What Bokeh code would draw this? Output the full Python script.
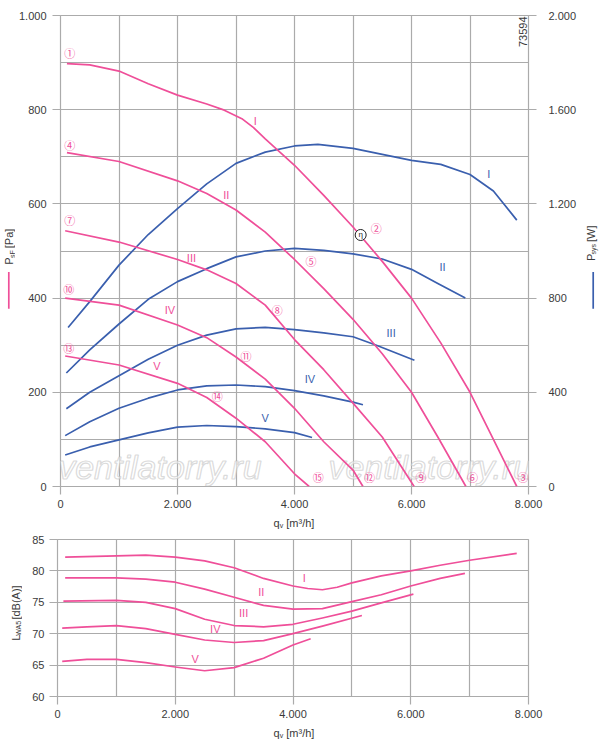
from bokeh.plotting import figure
from bokeh.models import Range1d, LinearAxis, FixedTicker
from bokeh.layouts import column, row
from bokeh.core.properties import value
from bokeh.embed import file_html
from bokeh.resources import INLINE

PINK = "#EF4F99"
BLUE = "#3A5FAE"
GRID = "#ABABAB"
TXT = "#3A3A3A"
FONT = "Liberation Sans"

# ---------------- data ----------------
# static pressure psF [Pa] vs qv [m3/h]
p1_x = [110, 500, 1000, 1500, 2000, 2500, 2800, 3100, 3300, 3500, 4000, 4500, 5000, 5500, 6000, 6500, 7000, 7400, 7800]
p1_y = [898, 895, 882, 855, 831, 812, 799, 781, 762, 738, 682, 618, 551, 478, 400, 305, 200, 100, 0]
p2_x = [110, 1000, 2000, 2500, 3000, 3500, 4000, 4500, 5000, 5500, 6000, 6450, 6930]
p2_y = [709, 690, 649, 622, 587, 540, 482, 420, 355, 282, 200, 105, 0]
p3_x = [80, 1000, 2000, 2500, 3000, 3500, 4000, 4500, 5000, 5500, 6045]
p3_y = [543, 519, 482, 460, 431, 385, 312, 248, 177, 105, 0]
p4_x = [80, 1000, 2000, 2500, 3000, 3500, 4000, 4500, 5000, 5170]
p4_y = [400, 385, 343, 316, 275, 228, 166, 95, 35, 0]
p5_x = [80, 1000, 2000, 2500, 3000, 3500, 4000, 4250]
p5_y = [277, 258, 219, 189, 145, 95, 27, 0]

# system power Psys [W]
w1_x = [130, 500, 1000, 1500, 2000, 2500, 3000, 3500, 4000, 4400, 5000, 5500, 6000, 6500, 7000, 7400, 7800]
w1_y = [675, 785, 940, 1070, 1180, 1285, 1372, 1420, 1446, 1453, 1436, 1410, 1385, 1368, 1325, 1255, 1131]
w2_x = [100, 500, 1000, 1500, 2000, 2500, 3000, 3500, 4000, 4500, 5000, 5500, 6000, 6450, 6920]
w2_y = [482, 580, 690, 795, 870, 925, 975, 1000, 1011, 1003, 988, 966, 922, 862, 800]
w3_x = [100, 500, 1000, 1500, 2000, 2500, 3000, 3500, 4000, 4500, 5000, 5400, 6050]
w3_y = [330, 400, 470, 540, 600, 643, 669, 676, 666, 652, 636, 600, 536]
w4_x = [80, 500, 1000, 1500, 2000, 2500, 3000, 3500, 4000, 4500, 5000, 5170]
w4_y = [216, 275, 332, 375, 410, 427, 431, 424, 407, 385, 358, 347]
w5_x = [80, 500, 1000, 1500, 2000, 2500, 3000, 3500, 4000, 4300]
w5_y = [134, 168, 198, 228, 252, 259, 254, 245, 229, 208]

# sound power LWA5 [dB(A)]
l1_x = [130, 1000, 1500, 2000, 2500, 3000, 3500, 4000, 4250, 4500, 4750, 5000, 5500, 6000, 6500, 7000, 7800]
l1_y = [82.2, 82.4, 82.5, 82.2, 81.6, 80.5, 78.8, 77.6, 77.2, 77.0, 77.4, 78.1, 79.2, 80.0, 80.9, 81.7, 82.8]
l2_x = [130, 1000, 1500, 2000, 2500, 3000, 3500, 4000, 4500, 5000, 5500, 6000, 6500, 6920]
l2_y = [78.9, 78.9, 78.7, 78.2, 77.1, 75.8, 74.5, 73.9, 74.0, 75.1, 76.2, 77.6, 78.8, 79.6]
l3_x = [100, 1000, 1500, 2000, 2500, 3000, 3500, 4000, 4500, 5000, 5500, 6045]
l3_y = [75.2, 75.3, 75.0, 74.0, 72.3, 71.3, 71.1, 71.5, 72.5, 73.6, 74.9, 76.3]
l4_x = [80, 500, 1000, 1500, 2000, 2500, 3000, 3500, 4000, 4500, 5170]
l4_y = [70.9, 71.1, 71.3, 70.8, 69.9, 69.0, 68.6, 68.9, 70.0, 71.2, 72.9]
l5_x = [80, 500, 1000, 1500, 2000, 2500, 3000, 3500, 4000, 4300]
l5_y = [65.6, 65.9, 65.9, 65.4, 64.7, 64.1, 64.6, 66.1, 68.2, 69.2]

# labels
roman = ["I", "II", "III", "IV", "V"]
pl_x = [3330, 2833, 2238, 1871, 1648]
pl_y = [777, 619, 486, 375, 256]
wl_x = [7323, 6531, 5652, 4265, 3500]
wl_y = [1327, 933, 650, 455, 292]
ll_x = [4192, 3461, 3161, 2680, 2340]
ll_y = [78.9, 76.7, 73.3, 70.8, 66.0]

circ_text = ["①", "②", "③", "④", "⑤", "⑥", "⑦", "⑧", "⑨", "⑩", "⑪", "⑫", "⑬", "⑭", "⑮"]
circ_x = [160, 5398, 7907, 160, 4282, 7041, 160, 3704, 6162, 143, 3172, 5284, 143, 2680, 4407]
circ_y = [920, 548, 20, 726, 479, 20, 566, 375, 20, 420, 277, 20, 294, 193, 20]
eta_x = [5131]
eta_y = [534]
id_x = [7905]
id_y = [933]
id_text = ["73594"]

x_ticks = [0, 2000, 4000, 6000, 8000]
x_tick_labels = ["0", "2.000", "4.000", "6.000", "8.000"]
p_ticks = [0, 200, 400, 600, 800, 1000]
p_tick_labels = ["0", "200", "400", "600", "800", "1.000"]
w_ticks = [0, 400, 800, 1200, 1600, 2000]
w_tick_labels = ["0", "400", "800", "1.200", "1.600", "2.000"]
l_ticks = [60, 65, 70, 75, 80, 85]
l_tick_labels = ["60", "65", "70", "75", "80", "85"]
wm_text = ["ventilatorry.ru", "ventilatorry.ru"]
wm_x = [-40, 4580]
wm_y = [41, 41]


def style_axis(ax, ticks, labels, standoff=5):
    ax.ticker = FixedTicker(ticks=ticks)
    ax.major_label_overrides = {t: l for t, l in zip(ticks, labels)}
    ax.axis_line_color = None
    ax.major_tick_line_color = GRID
    ax.major_tick_line_width = 1.2
    ax.major_tick_in = 0
    ax.major_tick_out = 8
    ax.minor_tick_line_color = None
    ax.major_label_text_font = FONT
    ax.major_label_text_font_size = "11px"
    ax.major_label_text_color = TXT
    ax.major_label_standoff = standoff


def base_fig(width, height, yr, left, right, top, bottom):
    f = figure(width=width, height=height, x_range=Range1d(0, 8000), y_range=yr,
               output_backend="svg", toolbar_location=None,
               min_border_left=left, min_border_right=right,
               min_border_top=top, min_border_bottom=bottom)
    f.background_fill_color = "white"
    f.border_fill_color = "white"
    f.outline_line_color = GRID
    f.outline_line_width = 1.2
    f.xgrid.ticker = FixedTicker(ticks=list(range(0, 8001, 1000)))
    for g in (f.xgrid[0], f.ygrid[0]):
        g.grid_line_color = GRID
        g.grid_line_width = 1.2
    style_axis(f.xaxis[0], x_ticks, x_tick_labels, 5)
    return f


def strip(width, height):
    s = figure(width=width, height=height, x_range=Range1d(0, width), y_range=Range1d(0, height),
               output_backend="svg", toolbar_location=None,
               x_axis_location=None, y_axis_location=None, min_border=0)
    s.grid.visible = False
    s.outline_line_color = None
    s.background_fill_color = "white"
    s.border_fill_color = "white"
    return s


def stext(s, x, y, text, size="11px", color=TXT, angle=0):
    s.text(x=[x], y=[y], text=[text], angle=angle, angle_units="deg",
           text_font=value(FONT), text_font_size=size, text_color=color,
           text_align="left", text_baseline="middle")


# ---------------- top chart ----------------
p = base_fig(567, 514, Range1d(0, 1000), 42, 54, 15, 28)
p.extra_y_ranges = {"power": Range1d(0, 2000)}
p.ygrid[0].ticker = FixedTicker(ticks=list(range(0, 1001, 100)))
style_axis(p.yaxis[0], p_ticks, p_tick_labels, 6)
rax = LinearAxis(y_range_name="power")
style_axis(rax, w_ticks, w_tick_labels, 12)
p.add_layout(rax, "right")

# watermark
try:
    p.text(x=wm_x, y=wm_y, text=wm_text, text_font=value(FONT), text_font_style="italic",
           text_font_size="34px", text_color="white", text_alpha=0.6,
           text_outline_color="#c2c2c2", text_baseline="alphabetic")
except Exception:
    p.text(x=wm_x, y=wm_y, text=wm_text, text_font=value(FONT), text_font_style="italic",
           text_font_size="34px", text_color="#dadada", text_alpha=0.7, text_baseline="alphabetic")

for xs, ys in [(w1_x, w1_y), (w2_x, w2_y), (w3_x, w3_y), (w4_x, w4_y), (w5_x, w5_y)]:
    p.line(xs, ys, line_color=BLUE, line_width=1.7, y_range_name="power", line_join="round")
for xs, ys in [(p1_x, p1_y), (p2_x, p2_y), (p3_x, p3_y), (p4_x, p4_y), (p5_x, p5_y)]:
    p.line(xs, ys, line_color=PINK, line_width=1.7, line_join="round")

p.text(x=pl_x, y=pl_y, text=roman, text_font=value(FONT), text_font_size="11px",
       text_color=PINK, text_align="center", text_baseline="middle")
p.text(x=wl_x, y=wl_y, text=roman, text_font=value(FONT), text_font_size="11px",
       text_color=BLUE, text_align="center", text_baseline="middle", y_range_name="power")
p.text(x=circ_x, y=circ_y, text=circ_text, text_font=value("Noto Sans CJK JP"), text_font_size="11px",
       text_color=PINK, text_align="center", text_baseline="middle")
p.scatter(x=eta_x, y=eta_y, marker="circle", size=11, fill_color="white", line_color="#222222", line_width=1)
p.text(x=eta_x, y=eta_y, text=["η"], text_font=value(FONT), text_font_size="8px",
       text_color="#222222", text_align="center", text_baseline="middle")
p.text(x=id_x, y=id_y, text=id_text, angle=90, angle_units="deg", text_font=value(FONT),
       text_font_size="11px", text_color=TXT, text_align="left", text_baseline="middle")

# left title strip: P_sF [Pa]
lt = strip(15, 514)
stext(lt, 8.5, 242, "P", angle=90)
stext(lt, 11.5, 249.3, "sF", size="7px", angle=90)
stext(lt, 8.5, 260, "[Pa]", angle=90)
lt.line(x=[8.3, 8.3], y=[194, 234], line_color=PINK, line_width=1.7)

# right title strip: P_sys [W]
rt = strip(18, 514)
stext(rt, 8, 246, "P", angle=90)
stext(rt, 11, 253.3, "sys", size="7px", angle=90)
stext(rt, 8, 266.8, "[W]", angle=90)
rt.line(x=[10.7, 10.7], y=[194, 234], line_color=BLUE, line_width=1.7)

# x title strip (top)
xt1 = strip(600, 15)
stext(xt1, 273, 7, "q")
stext(xt1, 279.3, 4, "v", size="7px")
stext(xt1, 285.8, 7, "[m³/h]")

# ---------------- bottom chart ----------------
q = base_fig(560, 194, Range1d(60, 85), 35, 54, 10, 27)
q.ygrid[0].ticker = FixedTicker(ticks=l_ticks)
style_axis(q.yaxis[0], l_ticks, l_tick_labels, 5)
for xs, ys in [(l1_x, l1_y), (l2_x, l2_y), (l3_x, l3_y), (l4_x, l4_y), (l5_x, l5_y)]:
    q.line(xs, ys, line_color=PINK, line_width=1.7, line_join="round")
q.text(x=ll_x, y=ll_y, text=roman, text_font=value(FONT), text_font_size="11px",
       text_color=PINK, text_align="center", text_baseline="middle")

lb = strip(22, 194)
stext(lb, 15, 69, "L", angle=90)
stext(lb, 18, 75.1, "WA5", size="7px", angle=90)
stext(lb, 15, 95, "[dB(A)]", angle=90)

xt2 = strip(600, 22)
stext(xt2, 273, 13, "q")
stext(xt2, 279.3, 10, "v", size="7px")
stext(xt2, 285.8, 13, "[m³/h]")

layout = column(row(lt, p, rt, spacing=0), xt1, row(lb, q, spacing=0), xt2, spacing=0)
open("out.html", "w").write(file_html(layout, INLINE))
